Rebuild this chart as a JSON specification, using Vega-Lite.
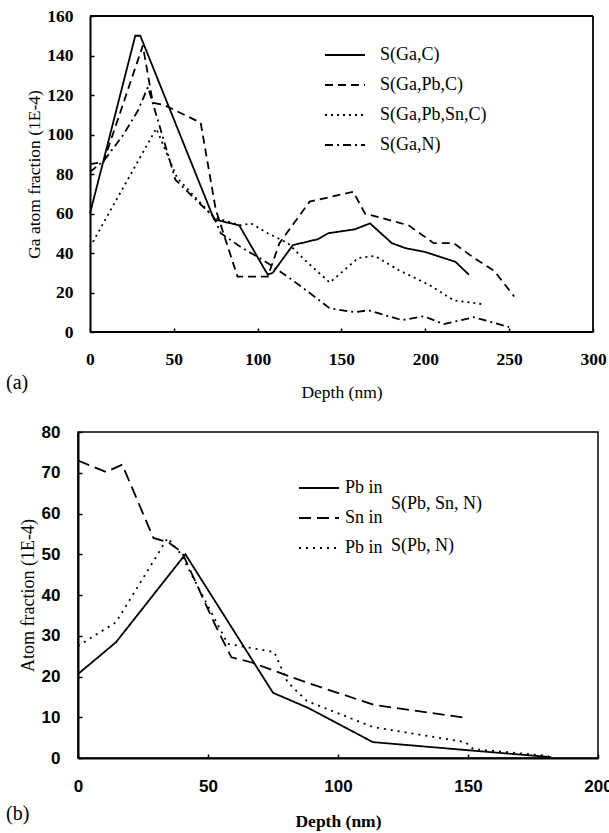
{
  "$schema": "https://vega.github.io/schema/vega-lite/v6.json",
  "padding": {"left": 5, "top": 7, "right": 0, "bottom": 0},
  "spacing": 21,
  "resolve": {"legend": {"strokeDash": "independent"}, "scale": {"strokeDash": "independent", "x": "independent", "y": "independent"}},
  "config": {
    "view": {"stroke": "black", "strokeWidth": 1.5},
    "axis": {"grid": false, "domainColor": "black", "domainWidth": 2, "tickColor": "black", "tickSize": -4, "tickWidth": 1.5, "labelFont": "Liberation Serif", "labelFontWeight": "bold", "labelFontSize": 17.5, "labelColor": "black", "labelFlush": false, "labelOverlap": false, "titleFont": "Liberation Serif", "titleFontSize": 17.5, "titleFontWeight": "normal", "titleColor": "black"},
    "legend": {"labelFont": "Liberation Serif", "labelFontSize": 18, "labelColor": "black", "symbolType": "stroke", "symbolSize": 1600, "symbolStrokeWidth": 1.8, "symbolStrokeColor": "black", "title": null}
  },
  "datasets": {
    "top": [
      {"s": "S(Ga,C)", "d": 0, "v": 60}, {"s": "S(Ga,C)", "d": 27, "v": 150}, {"s": "S(Ga,C)", "d": 30, "v": 150}, {"s": "S(Ga,C)", "d": 74, "v": 57}, {"s": "S(Ga,C)", "d": 89, "v": 54}, {"s": "S(Ga,C)", "d": 106, "v": 29}, {"s": "S(Ga,C)", "d": 109, "v": 30}, {"s": "S(Ga,C)", "d": 121, "v": 44}, {"s": "S(Ga,C)", "d": 126, "v": 45}, {"s": "S(Ga,C)", "d": 136, "v": 47}, {"s": "S(Ga,C)", "d": 142, "v": 50}, {"s": "S(Ga,C)", "d": 158, "v": 52}, {"s": "S(Ga,C)", "d": 167, "v": 55}, {"s": "S(Ga,C)", "d": 180, "v": 45}, {"s": "S(Ga,C)", "d": 188, "v": 42.5}, {"s": "S(Ga,C)", "d": 200, "v": 40.5}, {"s": "S(Ga,C)", "d": 218, "v": 35.5}, {"s": "S(Ga,C)", "d": 226, "v": 29},
      {"s": "S(Ga,Pb,C)", "d": 0, "v": 85}, {"s": "S(Ga,Pb,C)", "d": 8, "v": 86}, {"s": "S(Ga,Pb,C)", "d": 31.5, "v": 145}, {"s": "S(Ga,Pb,C)", "d": 37.5, "v": 116}, {"s": "S(Ga,Pb,C)", "d": 44, "v": 115}, {"s": "S(Ga,Pb,C)", "d": 66, "v": 106}, {"s": "S(Ga,Pb,C)", "d": 75, "v": 62}, {"s": "S(Ga,Pb,C)", "d": 88, "v": 28}, {"s": "S(Ga,Pb,C)", "d": 106, "v": 28}, {"s": "S(Ga,Pb,C)", "d": 113, "v": 45}, {"s": "S(Ga,Pb,C)", "d": 131, "v": 66}, {"s": "S(Ga,Pb,C)", "d": 157, "v": 71}, {"s": "S(Ga,Pb,C)", "d": 164, "v": 60}, {"s": "S(Ga,Pb,C)", "d": 190, "v": 54}, {"s": "S(Ga,Pb,C)", "d": 205, "v": 45}, {"s": "S(Ga,Pb,C)", "d": 217, "v": 45}, {"s": "S(Ga,Pb,C)", "d": 229, "v": 37.5}, {"s": "S(Ga,Pb,C)", "d": 241, "v": 31}, {"s": "S(Ga,Pb,C)", "d": 253, "v": 18},
      {"s": "S(Ga,Pb,Sn,C)", "d": 0, "v": 43}, {"s": "S(Ga,Pb,Sn,C)", "d": 39.5, "v": 103}, {"s": "S(Ga,Pb,Sn,C)", "d": 52, "v": 78}, {"s": "S(Ga,Pb,Sn,C)", "d": 74, "v": 58}, {"s": "S(Ga,Pb,Sn,C)", "d": 90, "v": 54}, {"s": "S(Ga,Pb,Sn,C)", "d": 96, "v": 55}, {"s": "S(Ga,Pb,Sn,C)", "d": 106, "v": 50}, {"s": "S(Ga,Pb,Sn,C)", "d": 118, "v": 45}, {"s": "S(Ga,Pb,Sn,C)", "d": 128, "v": 36.5}, {"s": "S(Ga,Pb,Sn,C)", "d": 143, "v": 25}, {"s": "S(Ga,Pb,Sn,C)", "d": 160, "v": 37.5}, {"s": "S(Ga,Pb,Sn,C)", "d": 170, "v": 38.5}, {"s": "S(Ga,Pb,Sn,C)", "d": 184, "v": 31.4}, {"s": "S(Ga,Pb,Sn,C)", "d": 202, "v": 24}, {"s": "S(Ga,Pb,Sn,C)", "d": 217, "v": 16}, {"s": "S(Ga,Pb,Sn,C)", "d": 235, "v": 14},
      {"s": "S(Ga,N)", "d": 0, "v": 81}, {"s": "S(Ga,N)", "d": 8.5, "v": 87}, {"s": "S(Ga,N)", "d": 20, "v": 100}, {"s": "S(Ga,N)", "d": 28.5, "v": 112}, {"s": "S(Ga,N)", "d": 34.6, "v": 124}, {"s": "S(Ga,N)", "d": 51, "v": 77}, {"s": "S(Ga,N)", "d": 74, "v": 58}, {"s": "S(Ga,N)", "d": 78, "v": 50}, {"s": "S(Ga,N)", "d": 90, "v": 43}, {"s": "S(Ga,N)", "d": 104, "v": 36}, {"s": "S(Ga,N)", "d": 112, "v": 31.5}, {"s": "S(Ga,N)", "d": 126, "v": 23}, {"s": "S(Ga,N)", "d": 143, "v": 12}, {"s": "S(Ga,N)", "d": 158, "v": 10}, {"s": "S(Ga,N)", "d": 166, "v": 11}, {"s": "S(Ga,N)", "d": 186, "v": 6}, {"s": "S(Ga,N)", "d": 199, "v": 8}, {"s": "S(Ga,N)", "d": 211, "v": 4}, {"s": "S(Ga,N)", "d": 229, "v": 7.5}, {"s": "S(Ga,N)", "d": 250, "v": 2.5}
    ],
    "frame": [
      {"d": 0, "d2": 300, "v": 160, "v2": 160},
      {"d": 300, "d2": 300, "v": 0, "v2": 160},
      {"d": 0, "d2": 300, "v": 0, "v2": 0}
    ],
    "bottom": [
      {"s": "Pb in S(Pb, Sn, N)", "d": 0, "v": 20.6}, {"s": "Pb in S(Pb, Sn, N)", "d": 14.6, "v": 28.4}, {"s": "Pb in S(Pb, Sn, N)", "d": 41.3, "v": 50}, {"s": "Pb in S(Pb, Sn, N)", "d": 75, "v": 16}, {"s": "Pb in S(Pb, Sn, N)", "d": 88.5, "v": 12.3}, {"s": "Pb in S(Pb, Sn, N)", "d": 113.4, "v": 3.9}, {"s": "Pb in S(Pb, Sn, N)", "d": 152, "v": 1.8}, {"s": "Pb in S(Pb, Sn, N)", "d": 182, "v": 0.2},
      {"s": "Sn in S(Pb, Sn, N)", "d": 0, "v": 73}, {"s": "Sn in S(Pb, Sn, N)", "d": 10.8, "v": 70.2}, {"s": "Sn in S(Pb, Sn, N)", "d": 17, "v": 72}, {"s": "Sn in S(Pb, Sn, N)", "d": 29, "v": 54}, {"s": "Sn in S(Pb, Sn, N)", "d": 34.5, "v": 53}, {"s": "Sn in S(Pb, Sn, N)", "d": 40, "v": 50.5}, {"s": "Sn in S(Pb, Sn, N)", "d": 52.5, "v": 33}, {"s": "Sn in S(Pb, Sn, N)", "d": 59, "v": 24.7}, {"s": "Sn in S(Pb, Sn, N)", "d": 66.5, "v": 23.5}, {"s": "Sn in S(Pb, Sn, N)", "d": 88, "v": 18.5}, {"s": "Sn in S(Pb, Sn, N)", "d": 114, "v": 13}, {"s": "Sn in S(Pb, Sn, N)", "d": 150, "v": 9.8},
      {"s": "Pb in S(Pb, N)", "d": 0, "v": 27.5}, {"s": "Pb in S(Pb, N)", "d": 14.6, "v": 33.3}, {"s": "Pb in S(Pb, N)", "d": 34.5, "v": 54}, {"s": "Pb in S(Pb, N)", "d": 39.6, "v": 50}, {"s": "Pb in S(Pb, N)", "d": 57.6, "v": 28}, {"s": "Pb in S(Pb, N)", "d": 75.5, "v": 26}, {"s": "Pb in S(Pb, N)", "d": 80.6, "v": 18.6}, {"s": "Pb in S(Pb, N)", "d": 88, "v": 14}, {"s": "Pb in S(Pb, N)", "d": 113.4, "v": 7.6}, {"s": "Pb in S(Pb, N)", "d": 149, "v": 3.9}, {"s": "Pb in S(Pb, N)", "d": 152, "v": 2.2}, {"s": "Pb in S(Pb, N)", "d": 181, "v": 0.5}
    ],
    "notes": [
      {"d": 120.4, "v": 62.3, "t": "S(Pb, Sn, N)"},
      {"d": 120.4, "v": 52, "t": "S(Pb, N)"}
    ]
  },
  "vconcat": [
    {
      "width": 515,
      "height": 316,
      "view": {"stroke": null},
      "title": {"text": "(a)", "orient": "bottom", "anchor": "start", "frame": "group", "dx": -72, "dy": -32, "font": "Liberation Serif", "fontSize": 20, "fontWeight": "normal", "color": "black"},
      "layer": [
        {
          "data": {"name": "top"},
          "mark": {"type": "line", "color": "black", "strokeWidth": 1.8},
          "encoding": {
            "x": {"field": "d", "type": "quantitative", "scale": {"domain": [-7.157, 300], "nice": false, "zero": false}, "axis": {"values": [0, 50, 100, 150, 200, 250, 300], "title": "Depth (nm)", "labelPadding": 22, "titlePadding": 16, "domain": false, "titleX": 263.5, "labelOverlap": false}},
            "y": {"field": "v", "type": "quantitative", "scale": {"domain": [0, 160], "nice": false}, "axis": {"values": [0, 20, 40, 60, 80, 100, 120, 140, 160], "title": "Ga atom fraction (1E-4)", "labelPadding": 21, "titlePadding": 3, "offset": -12, "labelOverlap": false}},
            "strokeDash": {"field": "s", "type": "nominal", "scale": {"domain": ["S(Ga,C)", "S(Ga,Pb,C)", "S(Ga,Pb,Sn,C)", "S(Ga,N)"], "range": [[1, 0], [8, 5], [2, 4], [8, 4, 2, 4]]}, "legend": {"orient": "none", "legendX": 246, "legendY": 18, "labelOffset": 14, "rowPadding": 0}}
          }
        },
        {
          "data": {"name": "frame"},
          "mark": {"type": "rule", "color": "black", "strokeWidth": 1.8},
          "encoding": {
            "x": {"field": "d", "type": "quantitative", "scale": {"domain": [-7.157, 300], "nice": false, "zero": false}, "axis": {"values": [0, 50, 100, 150, 200, 250, 300], "title": "Depth (nm)", "labelPadding": 22, "titlePadding": 16, "domain": false, "titleX": 263.5, "labelOverlap": false}},
            "x2": {"field": "d2"},
            "y": {"field": "v", "type": "quantitative", "scale": {"domain": [0, 160], "nice": false}, "axis": {"values": [0, 20, 40, 60, 80, 100, 120, 140, 160], "title": "Ga atom fraction (1E-4)", "labelPadding": 21, "titlePadding": 3, "offset": -12, "labelOverlap": false}},
            "y2": {"field": "v2"}
          }
        }
      ]
    },
    {
      "width": 520,
      "height": 326,
      "title": {"text": "(b)", "orient": "bottom", "anchor": "start", "frame": "group", "dx": -72, "dy": -30, "font": "Liberation Serif", "fontSize": 20, "fontWeight": "normal", "color": "black"},
      "layer": [
        {
          "data": {"name": "bottom"},
          "mark": {"type": "line", "color": "black", "strokeWidth": 1.8},
          "encoding": {
            "x": {"field": "d", "type": "quantitative", "scale": {"domain": [0, 200], "nice": false}, "axis": {"values": [0, 50, 100, 150, 200], "title": "Depth (nm)", "labelPadding": 24, "titlePadding": 18, "labelFont": "Liberation Sans", "labelFontSize": 17, "titleFontWeight": "bold"}},
            "y": {"field": "v", "type": "quantitative", "scale": {"domain": [0, 80], "nice": false}, "axis": {"values": [0, 10, 20, 30, 40, 50, 60, 70, 80], "title": "Atom fraction (1E-4)", "labelPadding": 22, "titlePadding": 4, "labelFont": "Liberation Sans", "labelFontSize": 17, "titleFontSize": 18}},
            "strokeDash": {"field": "s", "type": "nominal", "scale": {"domain": ["Pb in S(Pb, Sn, N)", "Sn in S(Pb, Sn, N)", "Pb in S(Pb, N)"], "range": [[1, 0], [12, 6], [2, 5]]}, "legend": {"orient": "none", "legendX": 220, "legendY": 35, "labelOffset": 5, "rowPadding": -2.5, "labelExpr": "split(datum.label, ' S(')[0]"}}
          }
        },
        {
          "data": {"name": "notes"},
          "mark": {"type": "text", "align": "left", "baseline": "middle", "font": "Liberation Serif", "fontSize": 18, "color": "black"},
          "encoding": {
            "x": {"field": "d", "type": "quantitative"},
            "y": {"field": "v", "type": "quantitative"},
            "text": {"field": "t"}
          }
        }
      ]
    }
  ]
}
